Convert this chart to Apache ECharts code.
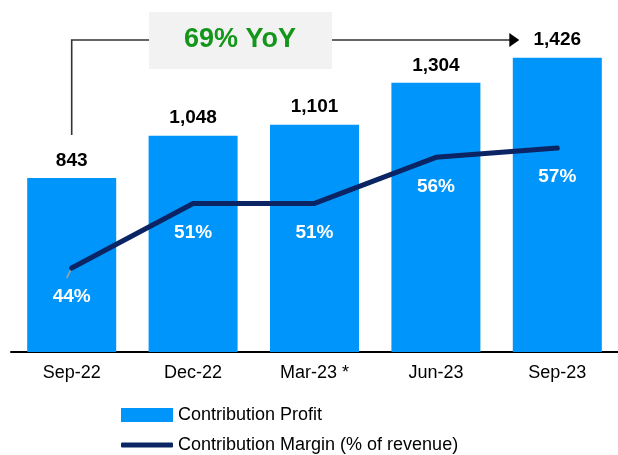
<!DOCTYPE html>
<html>
<head>
<meta charset="utf-8">
<script src="https://cdn.jsdelivr.net/npm/echarts@6/dist/echarts.min.js"></script>
<style>
  html, body { margin: 0; padding: 0; background: #fff; }
  #main { width: 618px; height: 455px; }
</style>
</head>
<body>
<div id="main"></div>
<script>
// quarters
const categories = ["Sep-22", "Dec-22", "Mar-23 *", "Jun-23", "Sep-23"];
// contribution profit
const profitValues = [843, 1048, 1101, 1304, 1426];
// contribution margin (%)
const marginValues = [44, 51, 51, 56, 57];
const yoyText = "69% YoY";

const FONT = "Liberation Sans, Arial, sans-serif";
const chart = echarts.init(document.getElementById("main"));

const legendText = { fontFamily: FONT, fontSize: 18, color: "#000" };

const option = {
  animation: false,
  grid: { left: 11, right: -10, top: 30, bottom: 103 },
  legend: [
    {
      left: 116, top: 401,
      itemWidth: 52, itemHeight: 14,
      textStyle: legendText,
      data: [{ name: "Contribution Profit", icon: "rect" }]
    },
    {
      left: 116, top: 431,
      itemWidth: 52, itemHeight: 5,
      textStyle: legendText,
      data: [{ name: "Contribution Margin (% of revenue)", icon: "roundRect" }]
    }
  ],
  xAxis: {
    type: "category",
    data: categories,
    axisLine: { lineStyle: { color: "#000", width: 2 } },
    axisTick: { show: false },
    axisLabel: { fontFamily: FONT, fontSize: 18, color: "#000", margin: 12 }
  },
  yAxis: [
    { type: "value", min: 0, max: 1560, show: false, splitLine: { show: false } },
    { type: "value", min: 34.9, max: 69.8, show: false, splitLine: { show: false } }
  ],
  series: [
    {
      name: "Contribution Profit",
      type: "bar",
      data: profitValues,
      barWidth: 89,
      itemStyle: { color: "#0095fb" },
      label: {
        show: true,
        position: "top",
        distance: 8,
        fontFamily: FONT,
        fontSize: 19,
        fontWeight: "bold",
        color: "#000",
        formatter: p => p.value.toLocaleString("en-US")
      }
    },
    {
      name: "Contribution Margin (% of revenue)",
      type: "line",
      yAxisIndex: 1,
      data: marginValues,
      symbol: "circle",
      symbolSize: 1,
      showSymbol: true,
      lineStyle: { color: "#0b2463", width: 5, cap: "round" },
      itemStyle: { color: "#0b2463" },
      label: {
        show: true,
        position: "bottom",
        distance: 19,
        fontFamily: FONT,
        fontSize: 19,
        fontWeight: "bold",
        color: "#fff",
        formatter: "{c}%"
      },
      labelLayout: { hideOverlap: false },
      z: 5
    }
  ]
};
chart.setOption(option);

// YoY annotation: bracket from first to last bar
const x0 = chart.convertToPixel({ xAxisIndex: 0 }, 0);
const x4 = chart.convertToPixel({ xAxisIndex: 0 }, 4);
const p0 = chart.convertToPixel({ xAxisIndex: 0, yAxisIndex: 1 }, [0, marginValues[0]]);
const lineY = 40;
chart.setOption({
  graphic: [
    {
      type: "polyline",
      shape: { points: [[x0, 135], [x0, lineY], [x4 - 46, lineY]] },
      style: { stroke: "#333", lineWidth: 1.6, fill: null }
    },
    {
      type: "polygon",
      shape: { points: [[x4 - 48, lineY - 7], [x4 - 38, lineY], [x4 - 48, lineY + 7]] },
      style: { fill: "#000" }
    },
    {
      type: "line",
      shape: { x1: p0[0], y1: p0[1], x2: p0[0] - 5, y2: p0[1] + 10 },
      style: { stroke: "#a0a0a0", lineWidth: 1.5 },
      z: 4
    },
    {
      type: "rect",
      shape: { x: 149, y: 12, width: 183, height: 57 },
      style: { fill: "#f2f2f2" },
      z: 10
    },
    {
      type: "text",
      x: 240, y: 40,
      style: {
        text: yoyText,
        fontFamily: FONT,
        fontSize: 27,
        fontWeight: "bold",
        fill: "#14961a",
        align: "center",
        verticalAlign: "middle"
      },
      z: 11
    }
  ]
});
</script>
</body>
</html>
